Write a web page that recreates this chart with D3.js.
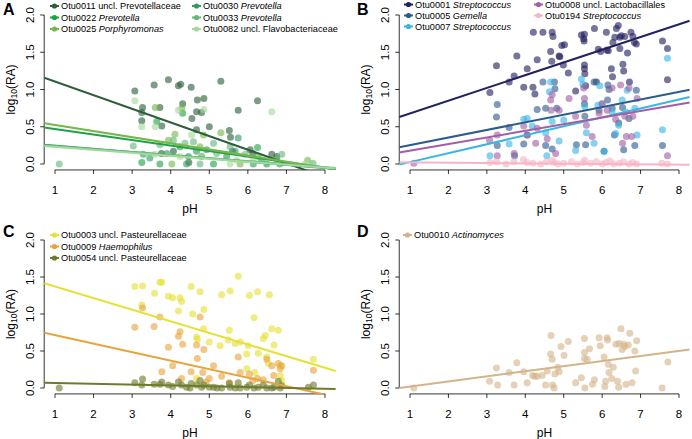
<!DOCTYPE html>
<meta charset="utf-8">
<script src="https://d3js.org/d3.v7.min.js"></script>
<style>
  body { margin: 0; background: #fff; }
  svg text { font-family: "Liberation Sans", Arial, sans-serif; fill: #000; }
</style>
<div id="chart"></div>
<script>
// ---- data: [pH, log10(RA)] ----
// panel A
var otu0011 = [[3.07,0.98],[3.27,0.76],[3.25,0.69],[3.25,0.58],[3.57,1.06],[3.72,0.76],[3.77,0.51],[3.94,1.13],[4.20,1.05],[4.26,1.07],[4.31,0.81],[4.53,1.03],[4.55,0.61],[4.67,0.70],[4.69,0.86],[4.80,0.69],[4.86,0.88],[5.00,0.50],[5.30,1.11],[5.52,0.45],[5.55,0.36],[5.75,0.72],[6.25,0.85],[6.06,0.19],[6.13,0.14],[6.62,0.13],[6.75,0.10],[4.67,0.46],[4.07,0.17],[3.76,0.14],[4.47,0.02],[5.60,0.17]];
var otu0022 = [[3.25,0.02],[3.72,0.00],[4.24,0.23],[4.67,0.17],[5.11,0.00],[5.45,0.10],[6.25,0.22],[4.31,0.68],[3.64,0.57],[6.49,0.00],[4.80,0.10]];
var otu0025 = [[3.60,0.76],[4.29,0.75],[4.11,0.40],[4.85,0.39],[5.30,0.42],[3.94,0.32],[4.76,0.23],[6.27,0.10],[5.80,0.00],[7.55,0.05],[4.03,0.00]];
var otu0030 = [[3.29,0.13],[3.90,0.14],[4.46,0.10],[4.93,0.19],[5.67,0.17],[6.14,0.00],[5.75,0.35],[6.83,0.00],[4.41,0.00],[3.46,0.08],[6.36,0.05]];
var otu0033 = [[3.03,0.24],[4.07,0.32],[4.59,0.30],[5.11,0.28],[5.54,0.23],[5.93,0.13],[6.88,0.13],[4.76,0.00],[3.72,0.26],[4.37,0.28],[5.19,0.14],[6.75,0.06],[7.69,0.01],[1.11,0.00]];
var otu0082 = [[3.07,0.85],[4.86,0.73],[6.62,0.70],[3.25,0.50],[4.54,0.39],[3.59,0.13],[4.80,0.10],[5.54,0.00],[6.14,0.06],[5.71,0.05],[4.24,0.10],[7.48,0.00],[4.20,0.72],[3.60,0.50]];
// panel B
var otu0001 = [[3.08,0.96],[3.25,1.32],[3.58,1.10],[3.71,1.18],[3.78,1.45],[3.96,1.03],[4.05,1.28],[4.20,1.03],[4.31,1.40],[4.21,1.77],[4.46,1.77],[4.66,1.51],[4.69,1.38],[4.70,1.77],[4.72,1.71],[4.88,1.45],[4.90,1.44],[4.95,1.59],[4.99,1.33],[5.02,1.60],[5.12,1.22],[5.31,0.98],[5.46,1.73],[5.52,1.68],[5.53,1.65],[5.54,1.74],[5.54,1.33],[5.54,1.28],[5.55,1.21],[5.57,1.05],[5.80,1.82],[5.90,1.54],[5.96,1.51],[6.11,1.77],[6.12,1.53],[6.16,1.52],[6.24,1.28],[6.27,1.17],[6.28,1.63],[6.33,1.70],[6.37,1.82],[6.42,1.86],[6.46,1.55],[6.46,1.70],[6.50,1.72],[6.54,1.34],[6.56,1.25],[6.59,1.71],[6.66,1.49],[6.71,1.10],[6.75,1.77],[6.80,1.71],[6.84,1.63],[6.89,1.61],[7.57,1.65],[7.70,1.55],[7.70,1.13],[4.25,0.94],[5.85,1.10]];
var otu0005 = [[3.27,0.80],[3.25,0.63],[3.27,0.25],[3.58,0.49],[3.72,0.11],[3.96,0.27],[4.05,0.39],[4.31,0.73],[4.46,1.10],[4.53,0.75],[4.53,0.25],[4.70,0.20],[4.76,1.10],[4.77,1.01],[4.82,0.75],[5.33,0.26],[5.55,0.64],[5.54,0.81],[5.57,0.26],[5.79,1.10],[6.15,1.06],[6.14,0.86],[6.18,1.00],[6.32,0.39],[6.26,0.75],[6.43,0.55],[6.56,0.19],[6.85,0.25],[6.89,0.99],[7.57,0.25],[5.92,0.72],[6.53,0.76],[6.70,0.61],[6.05,0.17]];
var otu0007 = [[3.08,0.11],[3.58,0.27],[3.96,0.60],[4.05,0.61],[4.18,0.51],[4.53,0.42],[4.63,0.97],[4.66,1.10],[4.70,0.57],[4.56,0.11],[4.88,0.31],[5.00,0.59],[5.31,0.18],[5.46,1.14],[5.50,1.07],[5.55,0.77],[5.59,0.42],[5.79,0.28],[5.89,0.79],[5.94,1.05],[6.05,0.17],[6.26,0.70],[6.35,0.41],[6.43,0.52],[6.52,0.86],[6.61,0.70],[6.65,0.99],[6.85,0.75],[6.91,0.39],[7.57,0.46],[7.70,1.42],[6.00,0.81]];
var otu0008 = [[1.10,0.01],[3.07,0.32],[3.27,0.11],[3.27,0.39],[3.71,0.14],[3.96,0.51],[4.05,0.39],[4.27,0.28],[4.31,0.48],[4.57,0.34],[4.66,0.86],[4.67,0.72],[4.70,0.93],[4.79,0.14],[4.88,0.72],[5.14,0.88],[5.31,0.64],[5.52,1.02],[5.54,0.88],[5.59,0.52],[5.74,0.37],[5.92,0.68],[6.00,0.81],[6.13,0.72],[6.26,1.02],[6.35,0.60],[6.48,1.06],[6.53,0.28],[6.59,0.64],[6.63,0.37],[6.70,1.02],[6.77,0.37],[6.80,0.64],[6.91,0.88],[7.70,0.11]];
var otu0194 = [[3.08,0.02],[3.25,0.03],[3.50,0.00],[3.70,0.03],[3.95,0.06],[4.05,0.02],[4.20,0.01],[4.40,0.00],[4.55,0.03],[4.70,0.05],[4.75,0.02],[4.85,0.00],[5.00,0.01],[5.20,0.03],[5.35,0.00],[5.50,0.02],[5.55,0.05],[5.70,0.01],[5.85,0.03],[6.00,0.00],[6.10,0.02],[6.20,0.04],[6.30,0.00],[6.45,0.01],[6.55,0.03],[6.70,0.00],[6.80,0.02],[6.90,0.00],[7.55,0.01],[7.70,0.00]];
// panel C
var otu0003 = [[3.07,1.37],[3.27,1.38],[3.25,1.12],[3.58,1.28],[3.72,1.43],[3.77,1.43],[3.94,1.24],[4.05,1.22],[4.20,1.04],[4.24,1.22],[4.28,1.17],[4.53,1.37],[4.57,1.00],[4.76,1.30],[4.86,1.06],[4.85,0.80],[4.67,0.69],[4.69,0.66],[5.00,0.62],[5.32,1.26],[5.54,1.31],[5.52,0.78],[5.49,0.65],[5.67,0.60],[5.75,1.51],[5.80,0.62],[5.97,0.46],[6.04,1.25],[6.01,0.57],[6.16,0.95],[6.27,0.47],[6.25,1.30],[6.40,0.67],[6.45,0.71],[6.56,1.26],[6.53,0.33],[6.62,0.80],[6.68,0.58],[6.79,0.78],[6.84,0.30],[6.84,0.17],[6.88,0.10],[7.70,0.39],[5.97,0.26],[6.18,0.21],[5.28,0.57],[6.49,0.42],[4.67,0.13]];
var otu0009 = [[3.07,0.82],[3.27,1.08],[3.57,0.83],[3.72,0.96],[3.77,0.22],[3.94,0.55],[4.05,0.30],[4.20,0.70],[4.24,0.76],[4.31,0.59],[4.53,0.22],[4.67,0.58],[4.69,0.40],[4.76,0.96],[4.83,0.21],[4.86,0.52],[5.00,0.13],[5.11,0.30],[5.32,0.16],[5.52,0.07],[5.75,0.42],[5.80,0.21],[6.04,0.19],[6.13,0.10],[6.25,0.13],[6.40,0.11],[6.49,0.39],[6.62,0.30],[6.67,0.17],[6.79,0.33],[6.84,0.26],[6.88,0.30],[7.70,0.24],[4.28,0.13],[4.92,0.08]];
var otu0054 = [[1.11,0.00],[3.07,0.07],[3.27,0.12],[3.25,0.04],[3.57,0.05],[3.72,0.05],[3.77,0.08],[3.94,0.04],[4.05,0.02],[4.20,0.08],[4.28,0.04],[4.41,0.01],[4.53,0.06],[4.67,0.04],[4.76,0.10],[4.80,0.01],[4.86,0.04],[5.00,0.01],[5.11,0.01],[5.32,0.00],[5.52,0.06],[5.54,0.01],[5.75,0.07],[5.80,0.00],[5.97,0.01],[6.04,0.04],[6.16,0.00],[6.27,0.01],[6.40,0.04],[6.49,0.00],[6.62,0.00],[6.68,0.01],[6.79,0.09],[6.84,0.00],[6.88,0.03],[7.57,0.01],[7.70,0.04],[4.50,0.00],[5.20,0.00],[5.67,0.00]];
// panel D
var otu0010 = [[1.10,0.00],[3.07,0.09],[3.25,0.27],[3.28,0.04],[3.58,0.21],[3.71,0.04],[3.78,0.34],[3.96,0.22],[4.05,0.07],[4.19,0.17],[4.25,0.16],[4.31,0.16],[4.44,0.17],[4.53,0.04],[4.57,0.23],[4.66,0.46],[4.67,0.71],[4.70,0.39],[4.71,0.04],[4.75,0.00],[4.77,0.19],[4.85,0.28],[4.88,0.22],[4.93,0.56],[5.01,0.44],[5.12,0.63],[5.31,0.07],[5.46,0.14],[5.54,0.67],[5.54,0.48],[5.54,0.40],[5.55,0.00],[5.61,0.39],[5.67,0.53],[5.75,0.05],[5.80,0.11],[5.92,0.68],[5.95,0.57],[6.05,0.42],[6.07,0.02],[6.09,0.09],[6.13,0.68],[6.14,0.65],[6.16,0.32],[6.18,0.21],[6.25,0.13],[6.29,0.28],[6.36,0.59],[6.40,0.09],[6.43,0.01],[6.44,0.60],[6.49,0.80],[6.52,0.52],[6.56,0.59],[6.59,0.56],[6.62,0.05],[6.68,0.58],[6.72,0.74],[6.78,0.07],[6.85,0.50],[6.87,0.23],[6.90,0.64],[7.56,0.00],[7.71,0.35]];

// fitted lines [intercept, slope]
var fit0011 = [1.29, -0.183], fit0022 = [0.543, -0.074], fit0025 = [0.605, -0.082],
    fit0030 = [0.29, -0.043], fit0033 = [0.279, -0.040], fit0082 = [0.27, -0.040];
var fit0001 = [0.508, 0.171], fit0005 = [0.151, 0.102], fit0007 = [-0.095, 0.120],
    fit0008 = [0.089, 0.089], fit0194 = [0.025, -0.0044];
var fit0003 = [1.53, -0.157], fit0009 = [0.83, -0.115], fit0054 = [0.078, -0.011];
var fit0010 = [-0.05, 0.069];

var xTicks = [1, 2, 3, 4, 5, 6, 7, 8];
var yTicks = [0, 0.5, 1, 1.5, 2];

var panels = [
  {letter: "A", lx: 3, ly: 15, x1: 55, x8: 325, y0: 164, y2: 15, legX: [61, 203], legY: [6, 17.5, 29],
   series: [
    {otu: "Otu0011", taxon: "uncl. Prevotellaceae", it: false, pts: otu0011, fit: fit0011, col: "#2d5f3b"},
    {otu: "Otu0022", taxon: "Prevotella", it: true, pts: otu0022, fit: fit0022, col: "#1fa14a"},
    {otu: "Otu0025", taxon: "Porphyromonas", it: true, pts: otu0025, fit: fit0025, col: "#74b84a"},
    {otu: "Otu0030", taxon: "Prevotella", it: true, pts: otu0030, fit: fit0030, col: "#2e9d62"},
    {otu: "Otu0033", taxon: "Prevotella", it: true, pts: otu0033, fit: fit0033, col: "#66b77e"},
    {otu: "Otu0082", taxon: "uncl. Flavobacteriaceae", it: false, pts: otu0082, fit: fit0082, col: "#a5d89b"}]},
  {letter: "B", lx: 357, ly: 15, x1: 410, x8: 679, y0: 164, y2: 15, legX: [415, 545], legY: [4.5, 15.5, 26.5],
   series: [
    {otu: "Otu0001", taxon: "Streptococcus", it: true, pts: otu0001, fit: fit0001, col: "#222160"},
    {otu: "Otu0005", taxon: "Gemella", it: true, pts: otu0005, fit: fit0005, col: "#2e5b8e"},
    {otu: "Otu0007", taxon: "Streptococcus", it: true, pts: otu0007, fit: fit0007, col: "#39b4e6"},
    {otu: "Otu0008", taxon: "uncl. Lactobacillales", it: false, pts: otu0008, fit: fit0008, col: "#a35ea5"},
    {otu: "Otu0194", taxon: "Streptococcus", it: true, pts: otu0194, fit: fit0194, col: "#f5b5c5"}]},
  {letter: "C", lx: 3, ly: 237, x1: 55, x8: 325, y0: 388, y2: 240, legX: [61], legY: [235, 246.5, 258],
   series: [
    {otu: "Otu0003", taxon: "uncl. Pasteurellaceae", it: false, pts: otu0003, fit: fit0003, col: "#e5e135"},
    {otu: "Otu0009", taxon: "Haemophilus", it: true, pts: otu0009, fit: fit0009, col: "#e9a33b"},
    {otu: "Otu0054", taxon: "uncl. Pasteurellaceae", it: false, pts: otu0054, fit: fit0054, col: "#6f7b2c"}]},
  {letter: "D", lx: 357, ly: 237, x1: 410, x8: 679, y0: 388, y2: 240, legX: [414], legY: [235],
   series: [
    {otu: "Otu0010", taxon: "Actinomyces", it: true, pts: otu0010, fit: fit0010, col: "#d3b48a"}]}
];

var svg = d3.select("#chart").append("svg")
    .attr("width", 692)
    .attr("height", 439);

panels.forEach(function(p, pi) {
  var x = d3.scaleLinear().domain([1, 8]).range([p.x1, p.x8]);
  var y = d3.scaleLinear().domain([0, 2]).range([p.y0, p.y2]);
  // R-style plot region (4% padding)
  var xl = x(0.72), xr = x(8.28), yb = y(-0.08), yt = y(2.08);

  var g = svg.append("g");

  g.append("clipPath").attr("id", "clip" + pi)
    .append("rect").attr("x", xl).attr("y", yt).attr("width", xr - xl).attr("height", yb - yt);

  // x axis
  g.append("line").attr("x1", x(1)).attr("x2", x(8)).attr("y1", yb).attr("y2", yb)
    .attr("stroke", "#000").attr("stroke-width", 0.8);
  g.selectAll(".xt").data(xTicks).enter().append("line")
    .attr("x1", d => x(d)).attr("x2", d => x(d)).attr("y1", yb).attr("y2", yb + 4)
    .attr("stroke", "#000").attr("stroke-width", 0.8);
  g.selectAll(".xl").data(xTicks).enter().append("text")
    .attr("x", d => x(d)).attr("y", yb + 20).attr("text-anchor", "middle")
    .attr("dominant-baseline", "central").style("font-size", "11.5px").text(d => d);
  g.append("text").attr("x", (x(1) + x(8)) / 2).attr("y", yb + 39)
    .attr("text-anchor", "middle").attr("dominant-baseline", "central")
    .style("font-size", "12px").text("pH");

  // y axis
  g.append("line").attr("x1", xl).attr("x2", xl).attr("y1", y(0)).attr("y2", y(2))
    .attr("stroke", "#000").attr("stroke-width", 0.8);
  g.selectAll(".yt").data(yTicks).enter().append("line")
    .attr("x1", xl - 4).attr("x2", xl).attr("y1", d => y(d)).attr("y2", d => y(d))
    .attr("stroke", "#000").attr("stroke-width", 0.8);
  g.selectAll(".yl").data(yTicks).enter().append("text")
    .attr("transform", d => "translate(" + (xl - 14) + "," + y(d) + ") rotate(-90)")
    .attr("text-anchor", "middle").attr("dominant-baseline", "central")
    .style("font-size", "11.5px").text(d => d.toFixed(1));
  var ytl = g.append("text")
    .attr("transform", "translate(" + (xl - 33) + "," + y(1) + ") rotate(-90)")
    .attr("text-anchor", "middle").attr("dominant-baseline", "central")
    .style("font-size", "12px");
  ytl.append("tspan").text("log");
  ytl.append("tspan").attr("dy", 3).style("font-size", "8.5px").text("10");
  ytl.append("tspan").attr("dy", -3).text("(RA)");

  // points
  p.series.forEach(function(s) {
    g.append("g").selectAll("circle").data(s.pts).enter().append("circle")
      .attr("cx", d => x(d[0])).attr("cy", d => y(d[1])).attr("r", 3.5)
      .attr("fill", s.col).attr("fill-opacity", 0.62);
  });

  // fitted lines
  p.series.forEach(function(s) {
    g.append("line").attr("clip-path", "url(#clip" + pi + ")")
      .attr("x1", xl).attr("y1", y(s.fit[0] + s.fit[1] * 0.72))
      .attr("x2", xr).attr("y2", y(s.fit[0] + s.fit[1] * 8.28))
      .attr("stroke", s.col).attr("stroke-width", 2);
  });

  // legend (column-major, 3 rows)
  p.series.forEach(function(s, i) {
    var tx = p.legX[Math.floor(i / 3)], ty = p.legY[i % 3];
    g.append("line").attr("x1", tx - 11).attr("x2", tx - 2).attr("y1", ty).attr("y2", ty)
      .attr("stroke", s.col).attr("stroke-width", 2);
    g.append("circle").attr("cx", tx - 6.5).attr("cy", ty).attr("r", 2.6).attr("fill", s.col);
    var t = g.append("text").attr("x", tx).attr("y", ty).attr("dominant-baseline", "central")
      .style("font-size", "9.2px");
    t.append("tspan").text(s.otu + " ");
    t.append("tspan").style("font-style", s.it ? "italic" : "normal").text(s.taxon);
  });

  // panel letter
  svg.append("text").attr("x", p.lx).attr("y", p.ly)
    .style("font-size", "16px").style("font-weight", "bold").text(p.letter);
});
</script>
